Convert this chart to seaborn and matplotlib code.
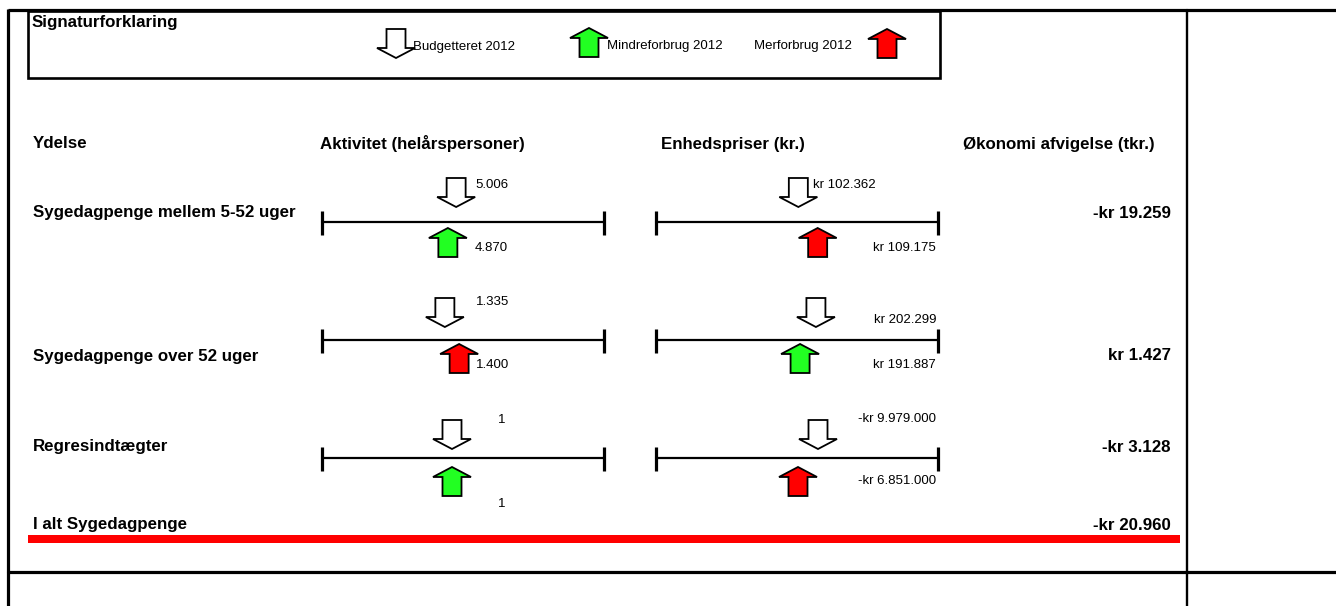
import numpy as np
import pandas as pd
import matplotlib
matplotlib.use("Agg")
import matplotlib.pyplot as plt
from matplotlib.patches import Polygon, Rectangle
import seaborn as sns

# ---------------- data ----------------
categories = ["Sygedagpenge mellem 5-52 uger", "Sygedagpenge over 52 uger", "Regresindtægter"]
activity_budget = [5006, 1335, 1]
activity_actual = [4870, 1400, 1]
price_budget = [102362, 202299, -9979000]
price_actual = [109175, 191887, -6851000]
deviation_tkr = [-19259, 1427, -3128]
total_label = "I alt Sygedagpenge"
total_tkr = -20960
headers = ["Ydelse", "Aktivitet (helårspersoner)", "Enhedspriser (kr.)", "Økonomi afvigelse (tkr.)"]
legend_title = "Signaturforklaring"
legend_labels = ["Budgetteret 2012", "Mindreforbrug 2012", "Merforbrug 2012"]

# ---------------- styling ----------------
sns.set_theme(style="white")
plt.rcParams["font.family"] = ["Liberation Sans", "DejaVu Sans"]
plt.rcParams["text.color"] = "black"

GREEN = "#22ff22"
RED = "#ff0000"
W, H = 1336, 606
BIG = 12.2
SMALL = 9.5

fig = plt.figure(figsize=(W / 100, H / 100), dpi=100)
ax = fig.add_axes([0, 0, 1, 1])
ax.set_xlim(0, W)
ax.set_ylim(H, 0)
ax.axis("off")


def fmt(v):
    return f"{abs(v):,}".replace(",", ".")


def fmt_kr(v):
    return ("-" if v < 0 else "") + "kr " + fmt(v)


def arrow(xc, ytip, up, color, L=29, head=10, bw=9.5, hw=19):
    d = 1 if up else -1
    yb = ytip + d * L
    yh = ytip + d * head
    pts = [(xc, ytip), (xc + hw, yh), (xc + bw, yh), (xc + bw, yb),
           (xc - bw, yb), (xc - bw, yh), (xc - hw, yh)]
    ax.add_patch(Polygon(pts, closed=True, facecolor=color, edgecolor="black",
                         linewidth=1.3, joinstyle="miter", zorder=5))


# ---------------- frame ----------------
ax.plot([8, W], [10, 10], color="black", lw=2.3, solid_capstyle="butt")
ax.plot([8, 8], [9, H], color="black", lw=2.3, solid_capstyle="butt")
ax.plot([1187, 1187], [10, H], color="black", lw=1.7)
ax.plot([8, W], [572, 572], color="black", lw=2.3)

# legend box
ax.add_patch(Rectangle((28, 11), 912, 67, fill=False, edgecolor="black", lw=1.9))
ax.text(32, 23, legend_title, fontsize=BIG, fontweight="bold", va="center", ha="left")
arrow(396, 58, False, "white")
ax.text(413, 47, legend_labels[0], fontsize=SMALL, va="center", ha="left")
arrow(589, 28, True, GREEN)
ax.text(607, 46, legend_labels[1], fontsize=SMALL, va="center", ha="left")
ax.text(754, 46, legend_labels[2], fontsize=SMALL, va="center", ha="left")
arrow(887, 29, True, RED)

# headers
hdr_x = [33, 422, 733, 963]
hdr_ha = ["left", "center", "center", "left"]
for t, x, ha in zip(headers, hdr_x, hdr_ha):
    ax.text(x, 144, t, fontsize=BIG, fontweight="bold", va="center", ha=ha)

# ---------------- rows ----------------
line_y = [222, 340, 458]
label_y = [213, 356, 447]
gap_top = [15, 13, 9]
gap_bot = [6, 4, 9]
panels = [(322, 604, 452), (656, 938, 808)]  # line start, end, pair centre

# scale lines via seaborn
seg_rows = []
for i, ly in enumerate(line_y):
    for p, (x0, x1, _) in enumerate(panels):
        seg_rows.append({"seg": f"{i}-{p}", "x": x0, "y": ly})
        seg_rows.append({"seg": f"{i}-{p}", "x": x1, "y": ly})
seg_df = pd.DataFrame(seg_rows)
sns.lineplot(data=seg_df, x="x", y="y", units="seg", estimator=None,
             color="black", lw=1.6, ax=ax, legend=False)
for ly in line_y:
    for x0, x1, _ in panels:
        for xx in (x0, x1):
            ax.plot([xx, xx], [ly - 11, ly + 13], color="black", lw=2.3,
                    solid_capstyle="butt")
ax.set_xlim(0, W)
ax.set_ylim(H, 0)
ax.axis("off")


def positions(b, a, centre, gain=300, lim=10):
    m = (abs(b) + abs(a)) / 2
    ob = float(np.clip(gain * (abs(b) / m - 1), -lim, lim))
    oa = float(np.clip(gain * (abs(a) / m - 1), -lim, lim))
    return centre + ob, centre + oa


# label layout (x, y, ha) for budget / actual texts
act_lbl = [((475, 185, "left"), (475, 248, "left")),
           ((476, 302, "left"), (476, 365, "left")),
           ((502, 420, "center"), (502, 504, "center"))]
price_lbl = [((813, 185, "left"), (936, 248, "right")),
             ((936, 320, "right"), (936, 365, "right")),
             ((936, 419, "right"), (936, 481, "right"))]

for i, cat in enumerate(categories):
    ly = line_y[i]
    ax.text(33, label_y[i], cat, fontsize=BIG, fontweight="bold", va="center", ha="left")
    ax.text(1171, label_y[i], fmt_kr(deviation_tkr[i]), fontsize=BIG,
            fontweight="bold", va="center", ha="right")
    for p, (b, a, lbls, f) in enumerate([
            (activity_budget[i], activity_actual[i], act_lbl[i], fmt),
            (price_budget[i], price_actual[i], price_lbl[i], fmt_kr)]):
        xb, xa = positions(b, a, panels[p][2])
        col = GREEN if a <= b else RED
        arrow(xb, ly - gap_top[i], False, "white")
        arrow(xa, ly + gap_bot[i], True, col)
        (bx, by, bha), (axx, ayy, aha) = lbls
        ax.text(bx, by, f(b), fontsize=SMALL, va="center", ha=bha)
        ax.text(axx, ayy, f(a), fontsize=SMALL, va="center", ha=aha)

# total
ax.text(33, 525, total_label, fontsize=BIG, fontweight="bold", va="center", ha="left")
ax.text(1171, 525, fmt_kr(total_tkr), fontsize=BIG, fontweight="bold", va="center", ha="right")
ax.add_patch(Rectangle((28, 535), 1152, 8, facecolor=RED, edgecolor="none"))

fig.savefig("out.png", dpi=100)
